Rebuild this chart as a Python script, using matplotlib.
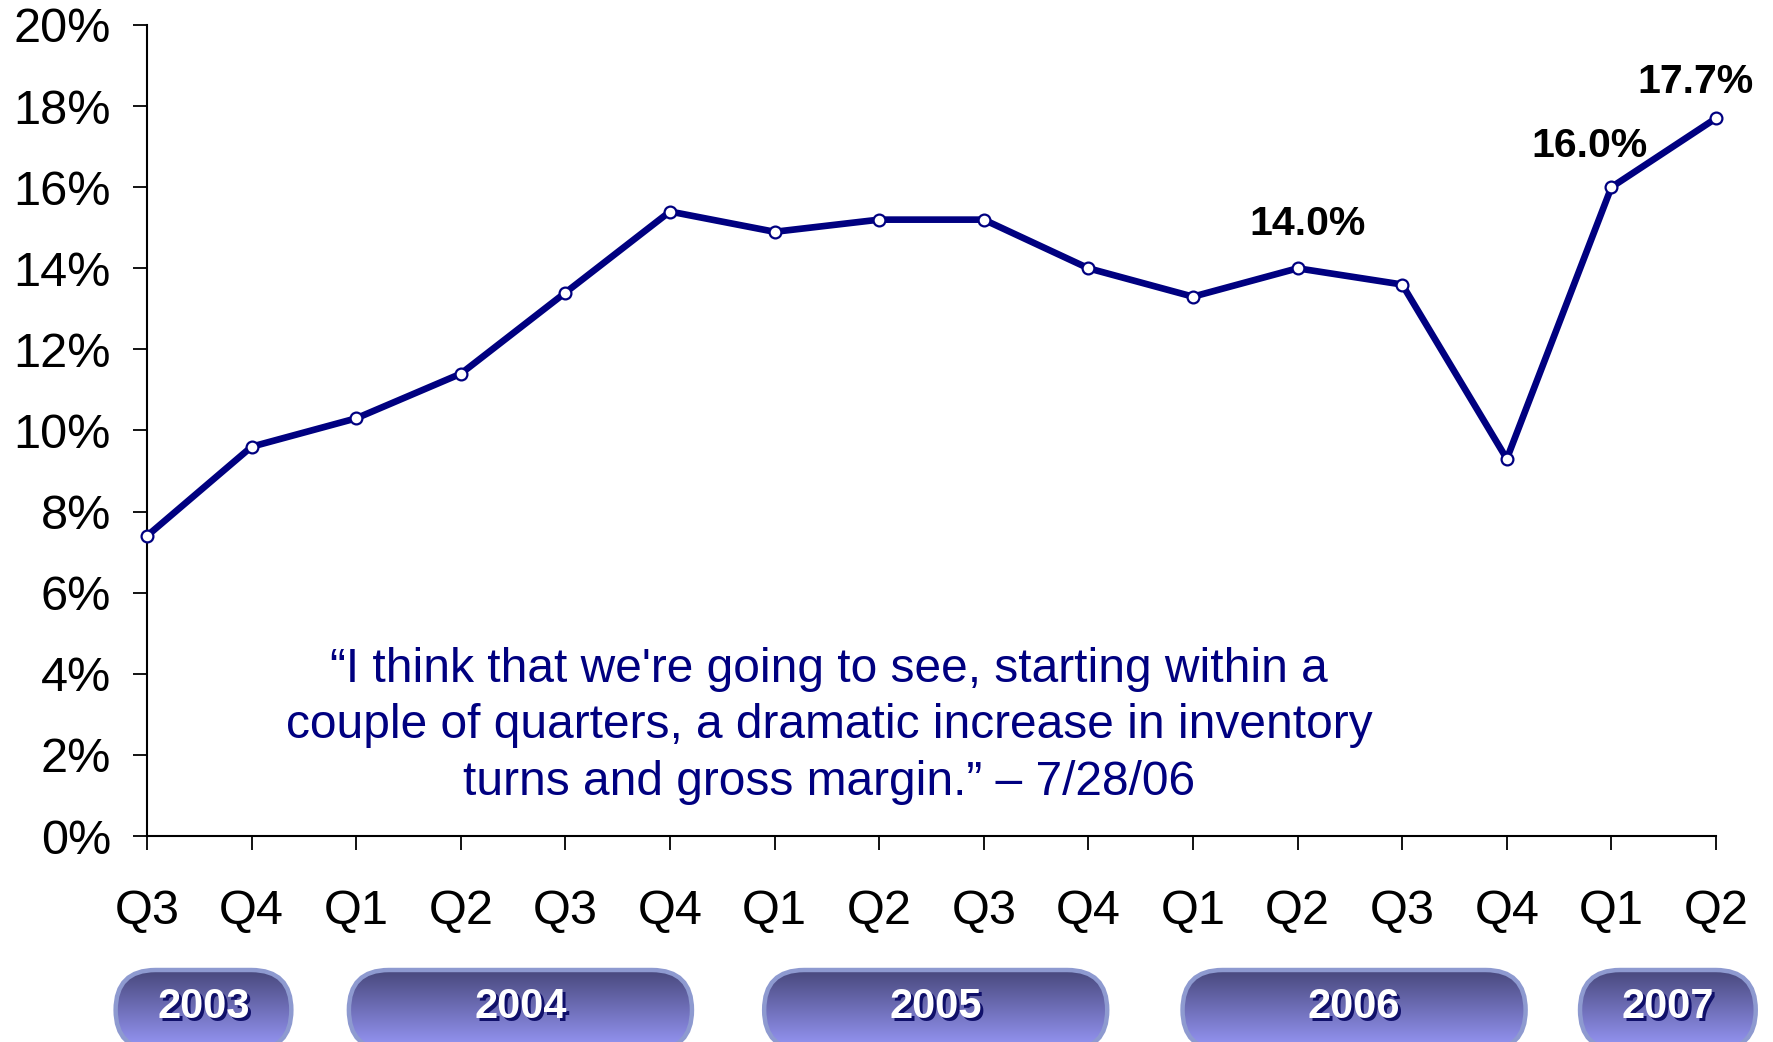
import numpy as np
import matplotlib
matplotlib.use("Agg")
import matplotlib.pyplot as plt
from matplotlib.patches import FancyBboxPatch

plt.rcParams['font.family'] = ['Liberation Sans', 'DejaVu Sans']

# Gross margin by quarter
quarters = ['Q3', 'Q4', 'Q1', 'Q2', 'Q3', 'Q4', 'Q1', 'Q2', 'Q3', 'Q4',
            'Q1', 'Q2', 'Q3', 'Q4', 'Q1', 'Q2']
margin = [7.4, 9.6, 10.3, 11.4, 13.4, 15.4, 14.9, 15.2, 15.2, 14.0,
          13.3, 14.0, 13.6, 9.3, 16.0, 17.7]
years = ['2003', '2004', '2005', '2006', '2007']
quarters_per_year = [2, 4, 4, 4, 2]
labelled = {11: (7, -32), 14: (-16, -30), 15: (-15, -26)}

quote = ("\u201cI think that we're going to see, starting within a\n"
         "couple of quarters, a dramatic increase in inventory\n"
         "turns and gross margin.\u201d \u2013 7/28/06")

navy = '#000080'
W, H = 1773, 1042

fig = plt.figure(figsize=(W / 100, H / 100), dpi=100)
ax = fig.add_axes([147 / W, 1 - 836 / H, 1569 / W, 811 / H])

x = np.arange(len(margin))
ax.plot(x, margin, color=navy, lw=4.8, marker='o', ms=8.5, mfc='white',
        mec=navy, mew=1.6, clip_on=False, zorder=3)

for i, (dx, dy) in labelled.items():
    ax.annotate(f'{margin[i]:.1f}%', (x[i], margin[i]), xytext=(dx, -dy),
                textcoords='offset points', ha='center', va='center',
                fontsize=29.5, fontweight='bold', color='black')

ax.set_xlim(0, len(margin) - 1)
ax.set_ylim(0, 20)
ax.set_yticks(np.arange(0, 21, 2))
ax.set_yticklabels([f'{v}%' for v in range(0, 21, 2)])
ax.set_xticks(x)
ax.set_xticklabels(quarters)
ax.tick_params(axis='both', labelsize=35, length=10, width=1.3, color='black')
ax.tick_params(axis='x', pad=28)
ax.tick_params(axis='y', pad=16)
for side in ['top', 'right']:
    ax.spines[side].set_visible(False)
for side in ['left', 'bottom']:
    ax.spines[side].set_linewidth(1.5)

ax.text(6.52, 2.72, quote, ha='center', va='center', fontsize=34.5,
        color=navy, linespacing=1.33)

# Year pills along the bottom, placed under their quarters
fig.canvas.draw()
ov = fig.add_axes([0, 0, 1, 1], zorder=-1)
ov.set_xlim(0, W)
ov.set_ylim(0, H)
ov.axis('off')

grad = np.linspace(0, 1, 256).reshape(-1, 1)
top_c = np.array([72, 72, 124]) / 255
bot_c = np.array([152, 152, 248]) / 255
grad_img = top_c * (1 - grad[..., None]) + bot_c * grad[..., None]

start = 0
pill_h, pill_y0 = 80, -8
for yr, n in zip(years, quarters_per_year):
    mid = start + (n - 1) / 2 + (0.07 if n == 4 and start == 2 else 0.04)
    half = 0.41 * n + (0.02 if n == 2 else 0.0)
    x0 = ax.transData.transform((mid - half, 0))[0]
    x1 = ax.transData.transform((mid + half, 0))[0]
    r = pill_h / 2
    box = FancyBboxPatch((x0 + r, pill_y0 + r), (x1 - x0) - 2 * r, 0,
                         boxstyle=f'round,pad={r},rounding_size={r}',
                         fc='none', ec='#8e9ad0', lw=3.2, zorder=3)
    ov.add_patch(box)
    im = ov.imshow(grad_img, extent=(x0, x1, pill_y0, pill_y0 + pill_h),
                   aspect='auto', zorder=2, origin='upper')
    im.set_clip_path(box)

    # bold year label with a dark drop shadow
    cx = (x0 + x1) / 2
    base_y = 24
    for dx, dy, c, z in [(3, -3, '#10106a', 4), (0, 0, 'white', 5)]:
        ov.text(cx + dx, base_y + dy, yr, ha='center', va='baseline',
                fontsize=30, fontweight='bold', color=c, zorder=z)
    start += n

fig.savefig('out.png', dpi=100, facecolor='white')
